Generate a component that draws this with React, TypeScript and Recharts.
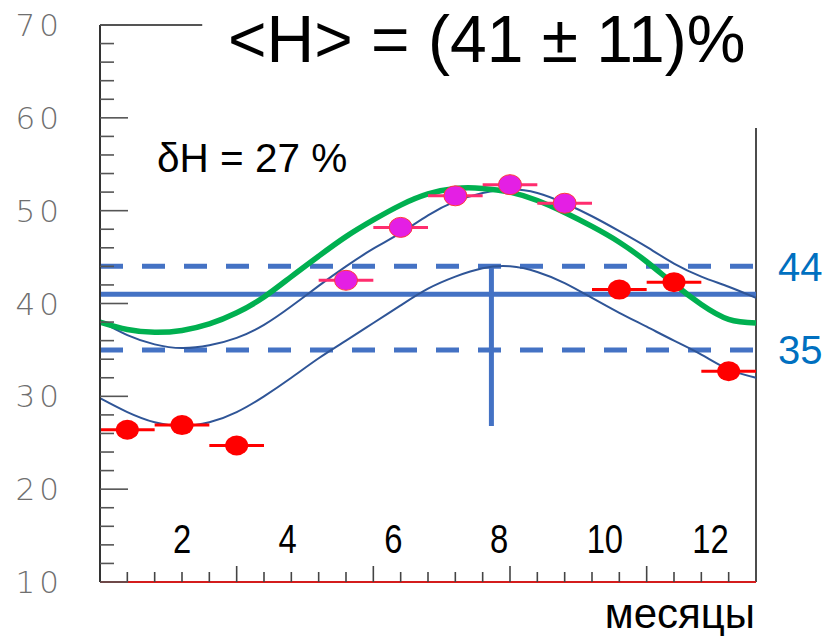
import React from 'react';
import { ComposedChart, Line, Scatter, ErrorBar, XAxis, YAxis, ReferenceLine } from 'recharts';

const curveMonths = [0.5, 1, 1.5, 2, 2.5, 3, 3.5, 4, 4.5, 5, 5.5, 6, 6.5, 7, 7.5, 8, 8.5, 9, 9.5, 10, 10.5, 11, 11.5, 12, 12.5];
const greenFit = [38.0, 37.2, 36.9, 37.1, 37.8, 39.0, 40.7, 42.9, 45.1, 47.2, 49.0, 50.6, 51.8, 52.4, 52.4, 52.0, 51.1, 49.8, 48.3, 46.6, 44.5, 42.1, 39.9, 38.3, 37.9];
const upperFit = [38.1, 36.6, 35.6, 35.2, 35.5, 36.3, 37.7, 39.7, 41.9, 44.0, 45.9, 47.6, 49.5, 51.0, 51.9, 52.3, 51.9, 50.8, 49.4, 47.8, 46.1, 44.3, 42.9, 41.8, 40.6];
const lowerFit = [29.8, 28.3, 27.2, 26.8, 27.2, 28.3, 30.0, 32.0, 34.1, 36.0, 37.9, 39.8, 41.6, 42.9, 43.8, 44.0, 43.4, 42.2, 40.6, 39.0, 37.5, 36.0, 34.5, 32.9, 32.0];

// monthly measurements
const redMonths = [1, 2, 3, 10, 11, 12];
const redValues = [26.4, 26.9, 24.7, 41.5, 42.3, 32.7];
const pinkMonths = [5, 6, 7, 8, 9];
const pinkValues = [42.5, 48.2, 51.6, 52.8, 50.8];
const monthHalfWidth = 0.5;

// mean and band
const meanH = 41;
const upperH = 44;
const lowerH = 35;
const peakMonth = 7.66;
const peakLow = 26.8;

const yTicks = [10, 12, 14, 16, 18, 20, 22, 24, 26, 28, 30, 32, 34, 36, 38, 40, 42, 44, 46, 48, 50, 52, 54, 56, 58, 60, 62, 64, 66, 68, 70];
const xTickMarks = [0.5, 1, 1.5, 2, 2.5, 3, 3.5, 4, 4.5, 5, 5.5, 6, 6.5, 7, 7.5, 8, 8.5, 9, 9.5, 10, 10.5, 11, 11.5, 12, 12.5];
const monthLabels = [2, 4, 6, 8, 10, 12];

const toCurve = (vals: number[]) => curveMonths.map((m, i) => ({ m, v: vals[i] }));
const toPoints = (ms: number[], vs: number[]) => ms.map((m, i) => ({ m, v: vs[i], ex: monthHalfWidth }));

const BLUE = '#4472c4';

function PercentTick(props: any) {
  const { x, y, payload } = props;
  const v = payload.value;
  const major = v % 10 === 0;
  return (
    <g>
      <line x1={x} x2={x + (major ? 28 : 14)} y1={y} y2={y} stroke="#555" strokeWidth={1.6} />
      {major && (
        <text x={x - 37} y={y} dy="0.36em" textAnchor="end" fontFamily="'DejaVu Sans', sans-serif"
          fontWeight={200} fontSize={31} letterSpacing={4} fill="#6f6f6f">{v}</text>
      )}
    </g>
  );
}

function MonthTickMark(props: any) {
  const { x, y, payload } = props;
  const v = payload.value;
  if (v <= 0.5 || v >= 12.5) return <g />;
  const k = (v - 0.5) / 2.5;
  const major = Math.abs(k - Math.round(k)) < 1e-6;
  return <line x1={x} x2={x} y1={y} y2={y - (major ? 16 : 10)} stroke="#444" strokeWidth={1.6} />;
}

// condensed digits, like the original's narrow font
function MonthLabel(props: any) {
  const { x, y, payload } = props;
  return (
    <text transform={`translate(${x},${y - 30}) scale(0.8,1)`} textAnchor="middle"
      fontFamily="'Liberation Sans Narrow', 'Liberation Sans', sans-serif" fontSize={41} fill="#000">{payload.value}</text>
  );
}

const RedDot = (p: any) => <ellipse cx={p.cx} cy={p.cy} rx={11.5} ry={10} fill="#ff0000" />;
const PinkDot = (p: any) => <ellipse cx={p.cx} cy={p.cy} rx={11.5} ry={10} fill="#e41fe4" stroke="#ff3a3a" strokeWidth={1} />;

export default function App() {
  return (
    <div style={{ position: 'absolute', left: 0, top: 0, width: 831, height: 636, background: '#fff' }}>
      <ComposedChart width={831} height={636} margin={{ top: 25, right: 75, bottom: 52, left: 0 }}>
        <XAxis xAxisId={0} dataKey="m" type="number" domain={[0.5, 12.5]} ticks={xTickMarks} interval={0}
          height={1} tickSize={0} tickMargin={0} tick={(p: any) => <MonthTickMark {...p} />}
          axisLine={{ stroke: '#d41c1c', strokeWidth: 2 }} tickLine={false} />
        <XAxis xAxisId="lbl" dataKey="m" type="number" domain={[0.449, 12.859]} allowDataOverflow ticks={monthLabels} interval={0}
          height={1} tickSize={0} tickMargin={0} tick={(p: any) => <MonthLabel {...p} />}
          axisLine={false} tickLine={false} />
        <YAxis dataKey="v" type="number" domain={[10, 70]} ticks={yTicks} interval={0} width={100}
          tickSize={0} tickMargin={0} tick={(p: any) => <PercentTick {...p} />}
          axisLine={{ stroke: '#333', strokeWidth: 2 }} tickLine={false} />

        <ReferenceLine segment={[{ x: 0.5, y: 70 }, { x: 2.37, y: 70 }]} stroke="#555" strokeWidth={2} />
        <ReferenceLine segment={[{ x: 12.5, y: 10 }, { x: 12.5, y: 58.9 }]} stroke="#111" strokeWidth={1.5} />

        <ReferenceLine y={meanH} stroke={BLUE} strokeWidth={5} />
        <ReferenceLine y={upperH} stroke={BLUE} strokeWidth={5} strokeDasharray="23 19"
          label={{ value: '44', position: 'right', offset: 22, fill: '#0070c0', fontSize: 40, fontFamily: "'Liberation Sans', sans-serif" }} />
        <ReferenceLine y={lowerH} stroke={BLUE} strokeWidth={5} strokeDasharray="23 19"
          label={{ value: '35', position: 'right', offset: 22, fill: '#0070c0', fontSize: 40, fontFamily: "'Liberation Sans', sans-serif" }} />
        <ReferenceLine segment={[{ x: peakMonth, y: upperH }, { x: peakMonth, y: peakLow }]} stroke={BLUE} strokeWidth={5} />

        <Line data={toCurve(lowerFit)} dataKey="v" type="natural" stroke="#2f5597" strokeWidth={2} dot={false} isAnimationActive={false} />
        <Line data={toCurve(upperFit)} dataKey="v" type="natural" stroke="#2f5597" strokeWidth={2} dot={false} isAnimationActive={false} />
        <Line data={toCurve(greenFit)} dataKey="v" type="natural" stroke="#00b050" strokeWidth={5.5} dot={false} isAnimationActive={false} />

        <Scatter data={toPoints(redMonths, redValues)} dataKey="v" shape={RedDot} isAnimationActive={false}>
          <ErrorBar dataKey="ex" direction="x" width={0} stroke="#ff0000" strokeWidth={3} />
        </Scatter>
        <Scatter data={toPoints(pinkMonths, pinkValues)} dataKey="v" shape={PinkDot} isAnimationActive={false}>
          <ErrorBar dataKey="ex" direction="x" width={0} stroke="#ff2d6e" strokeWidth={3} />
        </Scatter>

        <text x={228} y={62} fontFamily="'Liberation Sans', Arial, sans-serif" fontSize={66} fill="#000">{'<H> = (41 \u00b1 11)%'}</text>
        <text x={157} y={172} fontFamily="'Liberation Sans', Arial, sans-serif" fontSize={40.5} fill="#000">{'\u03b4H = 27 %'}</text>
        <text x={755} y={628} textAnchor="end" fontFamily="'Liberation Sans', Arial, sans-serif" fontSize={42} fill="#000">месяцы</text>
      </ComposedChart>
    </div>
  );
}
